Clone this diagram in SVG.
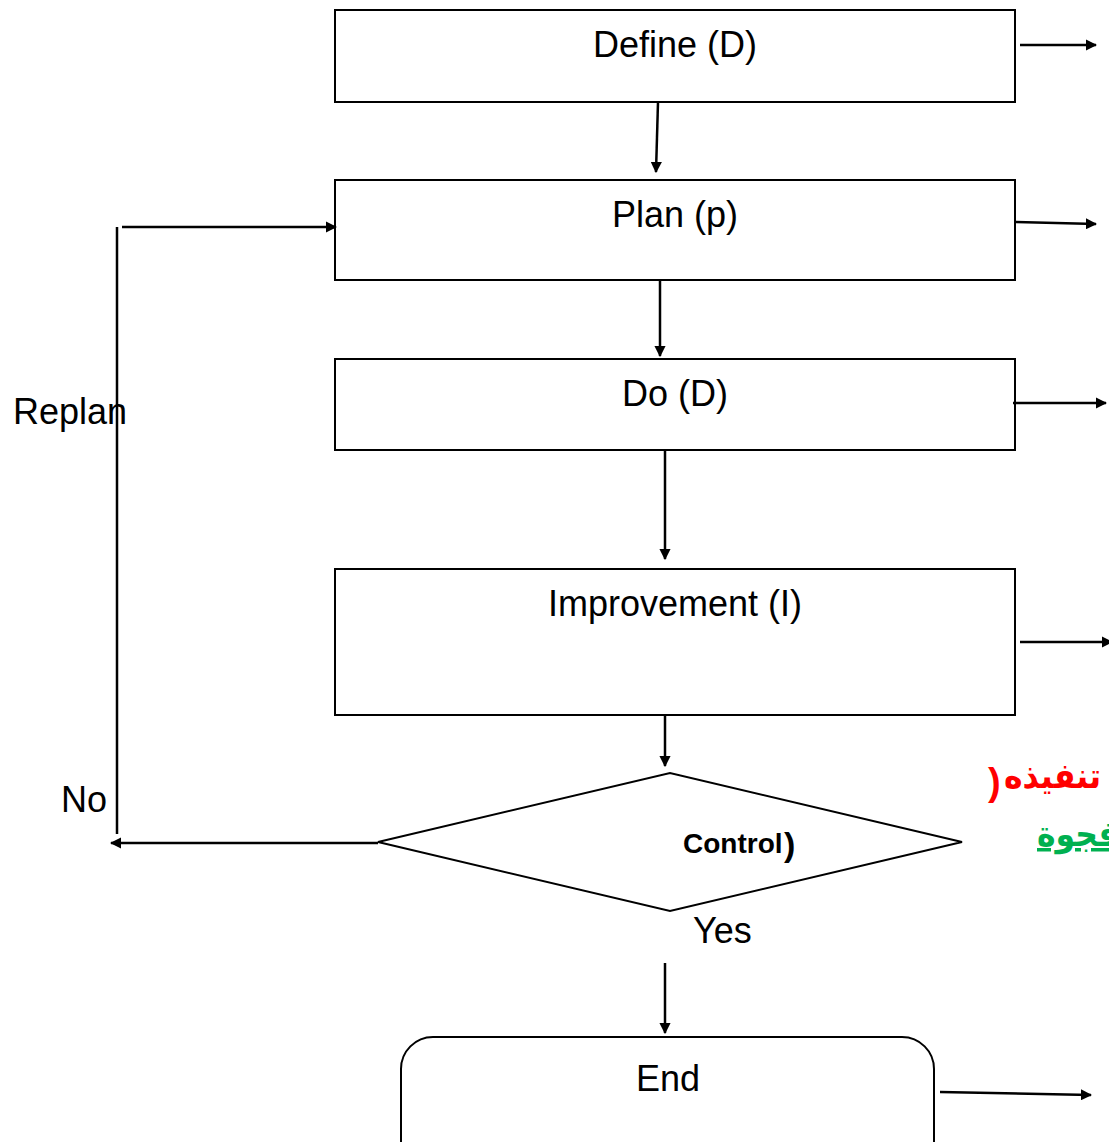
<svg xmlns="http://www.w3.org/2000/svg" width="1109" height="1142" viewBox="0 0 1109 1142">
<style>
.box{fill:#fff;stroke:#000;stroke-width:2}
.lbl{font-family:"Liberation Sans",Arial,sans-serif;font-size:36px;fill:#000}
.c{stroke:#000;stroke-width:2.5;fill:none}
.ar{font-family:"DejaVu Sans Condensed","DejaVu Sans",sans-serif;font-weight:bold;font-size:35px}
</style>
<defs>
<marker id="ah" viewBox="0 0 10 10" refX="9" refY="5" markerWidth="4.5" markerHeight="4.5" orient="auto" markerUnits="strokeWidth">
<path d="M0,0 L10,5 L0,10 z" fill="#000"/>
</marker>
</defs>
<rect width="1109" height="1142" fill="#fff"/>
<g id="define"><rect class="box" x="335" y="10" width="680" height="92"/><text class="lbl" x="675" y="57" text-anchor="middle">Define (D)</text></g>
<g id="plan"><rect class="box" x="335" y="180" width="680" height="100"/><text class="lbl" x="675" y="227" text-anchor="middle">Plan (p)</text></g>
<g id="do"><rect class="box" x="335" y="359" width="680" height="91"/><text class="lbl" x="675" y="406" text-anchor="middle">Do (D)</text></g>
<g id="improvement"><rect class="box" x="335" y="569" width="680" height="146"/><text class="lbl" x="675" y="616" text-anchor="middle">Improvement (I)</text></g>
<g id="control"><polygon class="box" points="378,842 670,773 962,842 670,911"/><text x="683" y="853" font-family="Liberation Sans,Arial,sans-serif" font-weight="bold" font-size="28">Control</text><text x="784" y="856" font-family="Liberation Sans,Arial,sans-serif" font-weight="bold" font-size="34">)</text></g>
<g id="end"><rect class="box" x="401" y="1037" width="533" height="140" rx="32"/><text class="lbl" x="668" y="1091" text-anchor="middle">End</text></g>
<g id="labels">
<text class="lbl" x="13" y="424">Replan</text>
<text class="lbl" x="61" y="812">No</text>
<text class="lbl" x="693" y="943">Yes</text>
<text x="988" y="795" fill="#FF0000" font-family="Liberation Sans,Arial,sans-serif" font-weight="bold" font-size="38">)</text>
<text class="ar" x="1004" y="788" fill="#FF0000">ه تنفيذه</text>
<text class="ar" x="1037" y="846" fill="#00B050" text-decoration="underline">فجوة</text>
</g>
<g id="connectors">
<line class="c" x1="658" y1="102" x2="656" y2="172" marker-end="url(#ah)"/>
<line class="c" x1="660" y1="280" x2="660" y2="356" marker-end="url(#ah)"/>
<line class="c" x1="665" y1="450" x2="665" y2="559" marker-end="url(#ah)"/>
<line class="c" x1="665" y1="715" x2="665" y2="766" marker-end="url(#ah)"/>
<line class="c" x1="665" y1="963" x2="665" y2="1033" marker-end="url(#ah)"/>
<line class="c" x1="1020" y1="45" x2="1096" y2="45" marker-end="url(#ah)"/>
<line class="c" x1="1015" y1="222" x2="1096" y2="224" marker-end="url(#ah)"/>
<line class="c" x1="1013" y1="403" x2="1106" y2="403" marker-end="url(#ah)"/>
<line class="c" x1="1020" y1="642" x2="1112" y2="642" marker-end="url(#ah)"/>
<line class="c" x1="940" y1="1092" x2="1091" y2="1095" marker-end="url(#ah)"/>
<line class="c" x1="378" y1="843" x2="111" y2="843" marker-end="url(#ah)"/>
<line class="c" x1="117" y1="834" x2="117" y2="227"/>
<line class="c" x1="122" y1="227" x2="336" y2="227" marker-end="url(#ah)"/>
</g>
</svg>
